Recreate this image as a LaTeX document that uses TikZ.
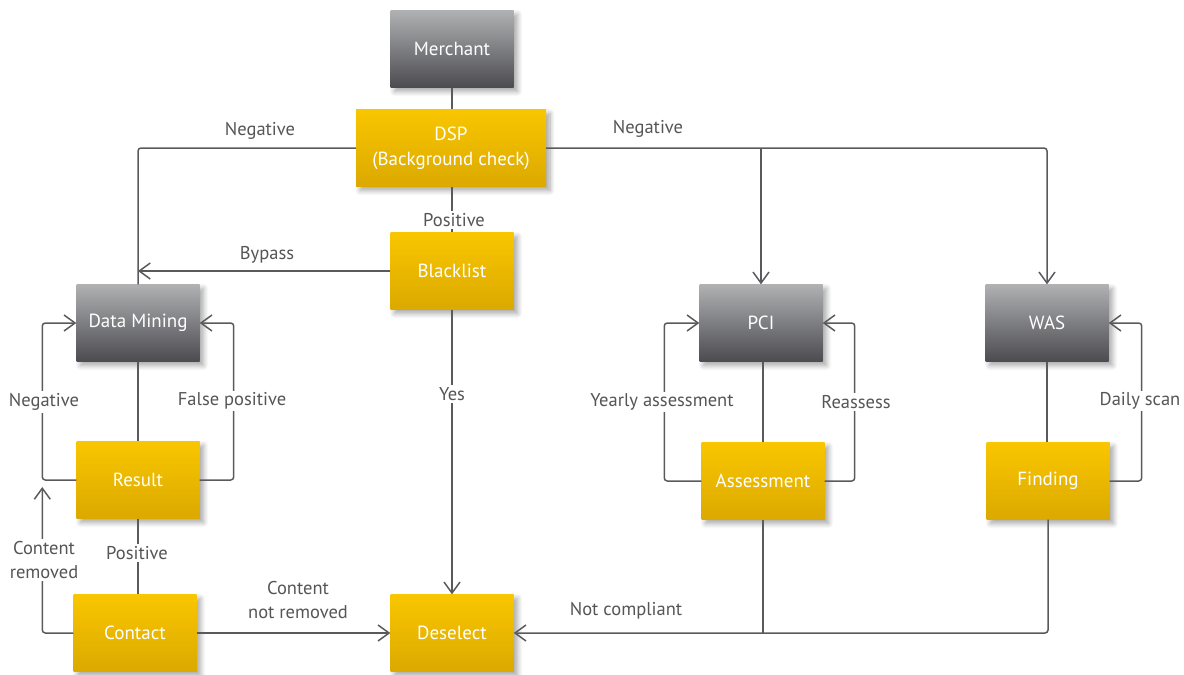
\documentclass[tikz,border=0pt]{standalone}
\usepackage{fontspec}
\setmainfont{PT Sans}
\usetikzlibrary{arrows.meta,shadows.blur,calc}
\definecolor{lin}{HTML}{5A5A5C}
\definecolor{gtop}{HTML}{B0B1B3}
\definecolor{gbot}{HTML}{4B4B50}
\definecolor{ytop}{HTML}{F9C600}
\definecolor{ybot}{HTML}{DBA900}
\definecolor{lbl}{HTML}{555558}
\tikzset{
  box/.style={minimum width=123pt, minimum height=77pt, inner sep=0pt, text=white,
    font=\fontsize{19}{25}\selectfont, align=center,
    blur shadow={shadow blur steps=8, shadow xshift=4pt, shadow yshift=-4pt, shadow opacity=35, shadow blur radius=5pt}},
  greybox/.style={box, top color=gtop, bottom color=gbot},
  yelbox/.style={box, top color=ytop, bottom color=ybot},
  conn/.style={draw=lin, line width=1.5pt, rounded corners=3pt},
  arr/.style={conn, -{Straight Barb[length=11pt,width=16pt,line width=1.5pt]}},
  lab/.style={text=lbl, font=\fontsize{18.5}{24}\selectfont, align=center, fill=white, inner sep=2pt}
}
\begin{document}
\begin{tikzpicture}[x=1pt,y=-1pt]
\useasboundingbox (0,0) rectangle (1184,675);
% nodes
\node[greybox] (mer) at (452,49) {Merchant};
\node[yelbox, minimum width=190pt] (dsp) at (451,148) {DSP\\(Background check)};
\node[yelbox] (bl) at (452,271) {Blacklist};
\node[greybox] (dm) at (138,323) {Data Mining};
\node[yelbox] (res) at (138,480) {Result};
\node[yelbox] (con) at (135,633) {Contact};
\node[yelbox] (des) at (452,633) {Deselect};
\node[greybox] (pci) at (761,323) {PCI};
\node[greybox] (was) at (1047,323) {WAS};
\node[yelbox] (ass) at (763,481) {Assessment};
\node[yelbox] (fin) at (1048,481) {Finding};
% coordinates
\coordinate (crtip) at ([xshift=-34pt,yshift=-7pt]res.west);
% connectors
\draw[conn] (mer.south) -- (mer.south |- dsp.north);
\draw[conn] (dsp.west) -| (dm.north);
\draw[arr] (dsp.east) -| (was.north);
\draw[arr] (dsp.east -| pci.north) -- (pci.north);
\draw[conn] (dsp.south -| bl.north) -- (bl.north);
\draw[arr] (bl.west) -- (bl.west -| dm.north);
\draw[arr] (bl.south) -- (des.north);
\draw[conn] (dm.south) -- (res.north);
\draw[arr] (res.west) -- ++(-34,0) |- (dm.west);
\draw[arr] (res.east) -- ++(34,0) |- (dm.east);
\draw[conn] (res.south) -- (res.south |- con.north);
\draw[arr] (con.west) -| (crtip);
\draw[arr] (con.east) -- (des.west);
\draw[conn] (pci.south -| ass.north) -- (ass.north);
\draw[arr] (ass.west) -- ++(-37,0) |- (pci.west);
\draw[arr] (ass.east) -- ++(30,0) |- (pci.east);
\draw[conn] (was.south) -- (was.south |- fin.north);
\draw[arr] (fin.east) -- ++(32,0) |- (was.east);
\draw[conn] (ass.south) -- (ass.south |- des.east);
\draw[arr] (fin.south) |- (des.east);
% labels
\node[lab, fill=none] (l1) at (260,131) {Negative};
\node[lab, fill=none] (l2) at (648,129) {Negative};
\node[lab, fill=none] (l3) at (267,255) {Bypass};
\node[lab] (l4) at (454,220) {Positive};
\node[lab] (l5) at (452,394) {Yes};
\node[lab] (l6) at (44,402) {Negative};
\node[lab] (l7) at (232,401) {False positive};
\node[lab] (l8) at (137,553) {Positive};
\node[lab] (l9) at (44,560) {Content\\removed};
\node[lab, fill=none] (l10) at (298,600) {Content\\not removed};
\node[lab] (l11) at (662,402) {Yearly assessment};
\node[lab] (l12) at (856,402) {Reassess};
\node[lab] (l13) at (1140,401) {Daily scan};
\node[lab, fill=none] (l14) at (626,611) {Not compliant};
\end{tikzpicture}
\end{document}
